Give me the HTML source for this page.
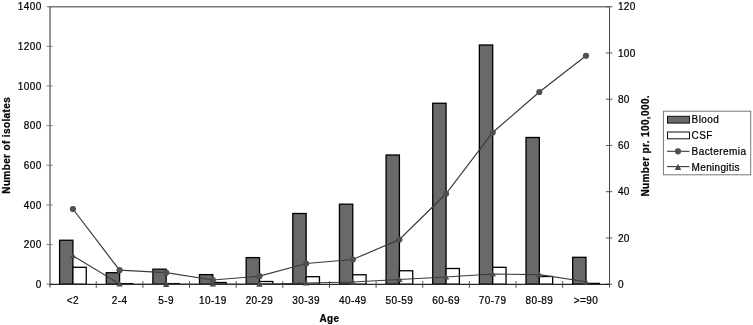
<!DOCTYPE html>
<html><head><meta charset="utf-8"><title>Chart</title>
<style>
html,body{margin:0;padding:0;background:#fff;}
svg{display:block;}
text{font-family:"Liberation Sans",sans-serif;font-size:10px;letter-spacing:0.42px;fill:#000;stroke:#000;stroke-width:0.22px;}
.b{font-weight:bold;letter-spacing:0.3px;}
</style></head><body>
<svg width="753" height="325" viewBox="0 0 753 325">
<rect x="0" y="0" width="753" height="325" fill="#ffffff"/>

<line x1="48.6" y1="6.7" x2="609.3" y2="6.7" stroke="#7a7a7a" stroke-width="1.4"/>
<line x1="50.0" y1="6.7" x2="50.0" y2="287.5" stroke="#7a7a7a" stroke-width="1.6"/>
<line x1="609.5" y1="6.7" x2="609.5" y2="287.5" stroke="#444" stroke-width="1"/>
<line x1="46.6" y1="284.20" x2="52.6" y2="284.20" stroke="#7a7a7a" stroke-width="1"/>
<text x="41.8" y="287.90" text-anchor="end">0</text>
<line x1="46.6" y1="244.56" x2="52.6" y2="244.56" stroke="#7a7a7a" stroke-width="1"/>
<text x="41.8" y="248.26" text-anchor="end">200</text>
<line x1="46.6" y1="204.91" x2="52.6" y2="204.91" stroke="#7a7a7a" stroke-width="1"/>
<text x="41.8" y="208.61" text-anchor="end">400</text>
<line x1="46.6" y1="165.27" x2="52.6" y2="165.27" stroke="#7a7a7a" stroke-width="1"/>
<text x="41.8" y="168.97" text-anchor="end">600</text>
<line x1="46.6" y1="125.63" x2="52.6" y2="125.63" stroke="#7a7a7a" stroke-width="1"/>
<text x="41.8" y="129.33" text-anchor="end">800</text>
<line x1="46.6" y1="85.99" x2="52.6" y2="85.99" stroke="#7a7a7a" stroke-width="1"/>
<text x="41.8" y="89.69" text-anchor="end">1000</text>
<line x1="46.6" y1="46.34" x2="52.6" y2="46.34" stroke="#7a7a7a" stroke-width="1"/>
<text x="41.8" y="50.04" text-anchor="end">1200</text>
<line x1="46.6" y1="6.70" x2="52.6" y2="6.70" stroke="#7a7a7a" stroke-width="1"/>
<text x="41.8" y="10.40" text-anchor="end">1400</text>
<line x1="605.8" y1="284.20" x2="612.3" y2="284.20" stroke="#555" stroke-width="1"/>
<text x="617.9" y="287.90">0</text>
<line x1="605.8" y1="237.95" x2="612.3" y2="237.95" stroke="#555" stroke-width="1"/>
<text x="617.9" y="241.65">20</text>
<line x1="605.8" y1="191.70" x2="612.3" y2="191.70" stroke="#555" stroke-width="1"/>
<text x="617.9" y="195.40">40</text>
<line x1="605.8" y1="145.45" x2="612.3" y2="145.45" stroke="#555" stroke-width="1"/>
<text x="617.9" y="149.15">60</text>
<line x1="605.8" y1="99.20" x2="612.3" y2="99.20" stroke="#555" stroke-width="1"/>
<text x="617.9" y="102.90">80</text>
<line x1="605.8" y1="52.95" x2="612.3" y2="52.95" stroke="#555" stroke-width="1"/>
<text x="617.9" y="56.65">100</text>
<line x1="605.8" y1="6.70" x2="612.3" y2="6.70" stroke="#555" stroke-width="1"/>
<text x="617.9" y="10.40">120</text>
<rect x="59.59" y="240.25" width="13.33" height="43.95" fill="#696969" stroke="#000" stroke-width="1.3"/>
<rect x="72.92" y="267.30" width="13.33" height="16.90" fill="#ffffff" stroke="#000" stroke-width="1.3"/>
<rect x="106.24" y="272.70" width="13.33" height="11.50" fill="#696969" stroke="#000" stroke-width="1.3"/>
<rect x="119.56" y="283.60" width="13.33" height="0.60" fill="#ffffff" stroke="#000" stroke-width="1.3"/>
<rect x="152.88" y="269.20" width="13.33" height="15.00" fill="#696969" stroke="#000" stroke-width="1.3"/>
<rect x="166.20" y="283.60" width="13.33" height="0.60" fill="#ffffff" stroke="#000" stroke-width="1.3"/>
<rect x="199.52" y="274.60" width="13.33" height="9.60" fill="#696969" stroke="#000" stroke-width="1.3"/>
<rect x="212.85" y="282.50" width="13.33" height="1.70" fill="#ffffff" stroke="#000" stroke-width="1.3"/>
<rect x="246.16" y="257.60" width="13.33" height="26.60" fill="#696969" stroke="#000" stroke-width="1.3"/>
<rect x="259.49" y="281.50" width="13.33" height="2.70" fill="#ffffff" stroke="#000" stroke-width="1.3"/>
<rect x="292.80" y="213.50" width="13.33" height="70.70" fill="#696969" stroke="#000" stroke-width="1.3"/>
<rect x="306.13" y="276.70" width="13.33" height="7.50" fill="#ffffff" stroke="#000" stroke-width="1.3"/>
<rect x="339.44" y="204.20" width="13.33" height="80.00" fill="#696969" stroke="#000" stroke-width="1.3"/>
<rect x="352.77" y="274.75" width="13.33" height="9.45" fill="#ffffff" stroke="#000" stroke-width="1.3"/>
<rect x="386.09" y="155.00" width="13.33" height="129.20" fill="#696969" stroke="#000" stroke-width="1.3"/>
<rect x="399.41" y="270.75" width="13.33" height="13.45" fill="#ffffff" stroke="#000" stroke-width="1.3"/>
<rect x="432.73" y="103.25" width="13.33" height="180.95" fill="#696969" stroke="#000" stroke-width="1.3"/>
<rect x="446.05" y="268.50" width="13.33" height="15.70" fill="#ffffff" stroke="#000" stroke-width="1.3"/>
<rect x="479.37" y="45.00" width="13.33" height="239.20" fill="#696969" stroke="#000" stroke-width="1.3"/>
<rect x="492.70" y="267.30" width="13.33" height="16.90" fill="#ffffff" stroke="#000" stroke-width="1.3"/>
<rect x="526.01" y="137.50" width="13.33" height="146.70" fill="#696969" stroke="#000" stroke-width="1.3"/>
<rect x="539.34" y="276.50" width="13.33" height="7.70" fill="#ffffff" stroke="#000" stroke-width="1.3"/>
<rect x="572.65" y="257.30" width="13.33" height="26.90" fill="#696969" stroke="#000" stroke-width="1.3"/>
<rect x="585.98" y="283.40" width="13.33" height="0.80" fill="#ffffff" stroke="#000" stroke-width="1.3"/>
<line x1="49.6" y1="284.34999999999997" x2="609.3" y2="284.34999999999997" stroke="#262626" stroke-width="1.2"/>
<line x1="96.24" y1="281.2" x2="96.24" y2="287.9" stroke="#505050" stroke-width="1"/>
<line x1="142.88" y1="281.2" x2="142.88" y2="287.9" stroke="#505050" stroke-width="1"/>
<line x1="189.52" y1="281.2" x2="189.52" y2="287.9" stroke="#505050" stroke-width="1"/>
<line x1="236.17" y1="281.2" x2="236.17" y2="287.9" stroke="#505050" stroke-width="1"/>
<line x1="282.81" y1="281.2" x2="282.81" y2="287.9" stroke="#505050" stroke-width="1"/>
<line x1="329.45" y1="281.2" x2="329.45" y2="287.9" stroke="#505050" stroke-width="1"/>
<line x1="376.09" y1="281.2" x2="376.09" y2="287.9" stroke="#505050" stroke-width="1"/>
<line x1="422.73" y1="281.2" x2="422.73" y2="287.9" stroke="#505050" stroke-width="1"/>
<line x1="469.37" y1="281.2" x2="469.37" y2="287.9" stroke="#505050" stroke-width="1"/>
<line x1="516.02" y1="281.2" x2="516.02" y2="287.9" stroke="#505050" stroke-width="1"/>
<line x1="562.66" y1="281.2" x2="562.66" y2="287.9" stroke="#505050" stroke-width="1"/>
<text x="72.92" y="304" text-anchor="middle">&lt;2</text>
<text x="119.56" y="304" text-anchor="middle">2-4</text>
<text x="166.20" y="304" text-anchor="middle">5-9</text>
<text x="212.85" y="304" text-anchor="middle">10-19</text>
<text x="259.49" y="304" text-anchor="middle">20-29</text>
<text x="306.13" y="304" text-anchor="middle">30-39</text>
<text x="352.77" y="304" text-anchor="middle">40-49</text>
<text x="399.41" y="304" text-anchor="middle">50-59</text>
<text x="446.05" y="304" text-anchor="middle">60-69</text>
<text x="492.70" y="304" text-anchor="middle">70-79</text>
<text x="539.34" y="304" text-anchor="middle">80-89</text>
<text x="585.98" y="304" text-anchor="middle">&gt;=90</text>
<polyline points="72.92,255.70 119.56,284.00 166.20,284.30 212.85,284.00 259.49,284.20 306.13,283.00 352.77,282.00 399.41,279.50 446.05,277.00 492.70,274.00 539.34,274.60 585.98,281.80" fill="none" stroke="#3a3a3a" stroke-width="1.1"/>
<path d="M72.92 252.70 L76.12 258.30 L69.72 258.30 Z" fill="#4a4a4a"/>
<path d="M119.56 281.00 L122.76 286.60 L116.36 286.60 Z" fill="#4a4a4a"/>
<path d="M166.20 281.30 L169.40 286.90 L163.00 286.90 Z" fill="#4a4a4a"/>
<path d="M212.85 281.00 L216.05 286.60 L209.65 286.60 Z" fill="#4a4a4a"/>
<path d="M259.49 281.20 L262.69 286.80 L256.29 286.80 Z" fill="#4a4a4a"/>
<path d="M306.13 280.00 L309.33 285.60 L302.93 285.60 Z" fill="#4a4a4a"/>
<path d="M352.77 279.00 L355.97 284.60 L349.57 284.60 Z" fill="#4a4a4a"/>
<path d="M399.41 276.50 L402.61 282.10 L396.21 282.10 Z" fill="#4a4a4a"/>
<path d="M446.05 274.00 L449.25 279.60 L442.85 279.60 Z" fill="#4a4a4a"/>
<path d="M492.70 271.00 L495.90 276.60 L489.50 276.60 Z" fill="#4a4a4a"/>
<path d="M539.34 271.60 L542.54 277.20 L536.14 277.20 Z" fill="#4a4a4a"/>
<path d="M585.98 278.80 L589.18 284.40 L582.78 284.40 Z" fill="#4a4a4a"/>
<polyline points="72.92,209.00 119.56,270.20 166.20,272.70 212.85,280.00 259.49,276.20 306.13,263.50 352.77,259.50 399.41,239.50 446.05,193.75 492.70,132.50 539.34,92.00 585.98,55.75" fill="none" stroke="#3a3a3a" stroke-width="1.2"/>
<circle cx="72.92" cy="209.00" r="3.1" fill="#4f4f4f"/>
<circle cx="119.56" cy="270.20" r="3.1" fill="#4f4f4f"/>
<circle cx="166.20" cy="272.70" r="3.1" fill="#4f4f4f"/>
<circle cx="212.85" cy="280.00" r="3.1" fill="#4f4f4f"/>
<circle cx="259.49" cy="276.20" r="3.1" fill="#4f4f4f"/>
<circle cx="306.13" cy="263.50" r="3.1" fill="#4f4f4f"/>
<circle cx="352.77" cy="259.50" r="3.1" fill="#4f4f4f"/>
<circle cx="399.41" cy="239.50" r="3.1" fill="#4f4f4f"/>
<circle cx="446.05" cy="193.75" r="3.1" fill="#4f4f4f"/>
<circle cx="492.70" cy="132.50" r="3.1" fill="#4f4f4f"/>
<circle cx="539.34" cy="92.00" r="3.1" fill="#4f4f4f"/>
<circle cx="585.98" cy="55.75" r="3.1" fill="#4f4f4f"/>
<text class="b" transform="translate(9.7 145.3) rotate(-90)" text-anchor="middle" style="letter-spacing:0.38px">Number of isolates</text>
<text class="b" transform="translate(648.5 145.8) rotate(-90)" text-anchor="middle" style="letter-spacing:0.37px">Number pr. 100,000.</text>
<text class="b" x="329.5" y="321.8" text-anchor="middle">Age</text>
<rect x="663.4" y="111.2" width="87.3" height="63.6" fill="#fff" stroke="#777" stroke-width="1"/>
<rect x="667.5" y="116.3" width="22" height="6.8" fill="#696969" stroke="#111" stroke-width="1"/>
<text x="691.6" y="122.6">Blood</text>
<rect x="667.5" y="132" width="22" height="6.8" fill="#fff" stroke="#111" stroke-width="1"/>
<text x="691.6" y="138.8">CSF</text>
<line x1="667" y1="151.3" x2="689.5" y2="151.3" stroke="#3a3a3a" stroke-width="1.1"/>
<circle cx="678" cy="151.3" r="3.1" fill="#4f4f4f"/>
<text x="691.6" y="154.6">Bacteremia</text>
<line x1="667" y1="166.6" x2="689.5" y2="166.6" stroke="#3a3a3a" stroke-width="1.1"/>
<path d="M678 163.8 L681.3 170 L674.7 170 Z" fill="#4a4a4a"/>
<text x="691.6" y="170.6" style="letter-spacing:0.32px">Meningitis</text>
</svg></body></html>
